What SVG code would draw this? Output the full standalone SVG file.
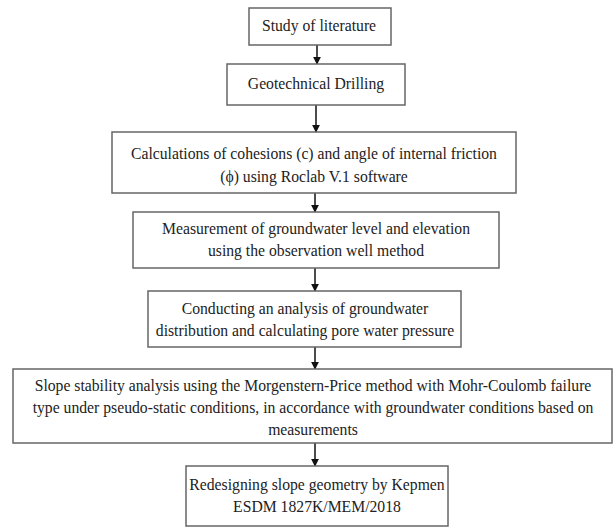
<svg xmlns="http://www.w3.org/2000/svg" width="616" height="528" viewBox="0 0 616 528">
<style>
.box{fill:#fff;stroke:#666;stroke-width:1.5}
.t{font-family:"Liberation Serif","Times New Roman",serif;font-size:15.7px;fill:#222;text-anchor:middle}
.c{stroke:#111;stroke-width:1.5;fill:none}
</style>
<defs>
<marker id="ah" viewBox="0 0 10 10" refX="9" refY="5" markerWidth="8" markerHeight="8" markerUnits="userSpaceOnUse" orient="auto">
<path d="M0,0 L10,5 L0,10 z" fill="#111"/>
</marker>
</defs>
<rect width="616" height="528" fill="#fff"/>
<g id="connectors">
<line class="c" x1="317" y1="45" x2="317" y2="64" marker-end="url(#ah)"/>
<line class="c" x1="316" y1="105" x2="316" y2="132" marker-end="url(#ah)"/>
<line class="c" x1="315" y1="193" x2="315" y2="212" marker-end="url(#ah)"/>
<line class="c" x1="315" y1="268" x2="315" y2="291" marker-end="url(#ah)"/>
<line class="c" x1="315" y1="347" x2="315" y2="369" marker-end="url(#ah)"/>
<line class="c" x1="315" y1="443" x2="315" y2="466" marker-end="url(#ah)"/>
</g>
<g id="n1"><rect class="box" x="249" y="8" width="142" height="37"/><text class="t" x="319" y="31">Study of literature</text></g>
<g id="n2"><rect class="box" x="227" y="64" width="178" height="41"/><text class="t" x="316" y="89">Geotechnical Drilling</text></g>
<g id="n3"><rect class="box" x="112" y="132" width="404" height="61"/><text class="t" x="314" y="159">Calculations of cohesions (c) and angle of internal friction</text><text class="t" x="314" y="182">(ϕ) using Roclab V.1 software</text></g>
<g id="n4"><rect class="box" x="133" y="212" width="366" height="56"/><text class="t" x="316" y="234">Measurement of groundwater level and elevation</text><text class="t" x="316" y="256">using the observation well method</text></g>
<g id="n5"><rect class="box" x="148" y="291" width="313" height="56"/><text class="t" x="305" y="314">Conducting an analysis of groundwater</text><text class="t" x="305" y="336">distribution and calculating pore water pressure</text></g>
<g id="n6"><rect class="box" x="13" y="369" width="599" height="74"/><text class="t" x="313" y="391">Slope stability analysis using the Morgenstern-Price method with Mohr-Coulomb failure</text><text class="t" x="313" y="413">type under pseudo-static conditions, in accordance with groundwater conditions based on</text><text class="t" x="313" y="435">measurements</text></g>
<g id="n7"><rect class="box" x="186" y="466" width="262" height="60"/><text class="t" x="317" y="490">Redesigning slope geometry by Kepmen</text><text class="t" x="317" y="512">ESDM 1827K/MEM/2018</text></g>
</svg>
